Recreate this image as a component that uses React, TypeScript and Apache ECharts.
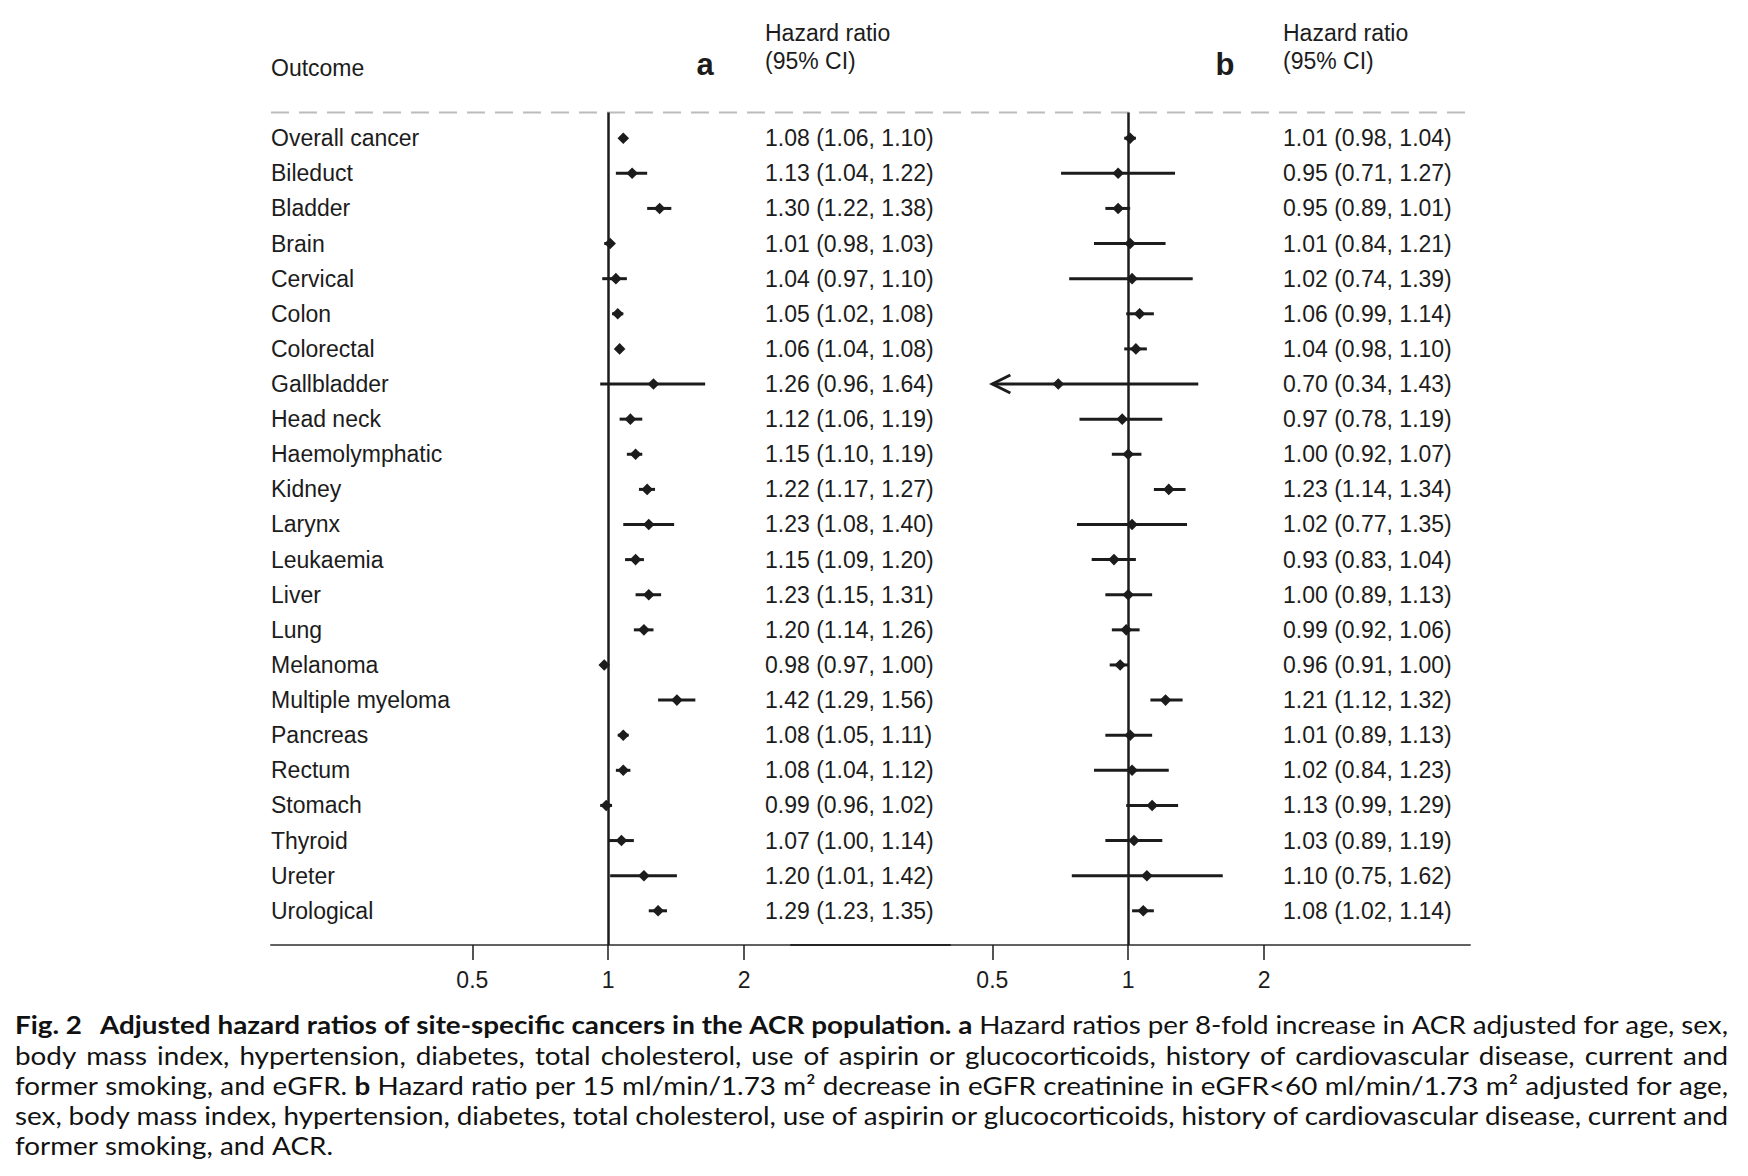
import React, { useEffect, useRef } from 'react';
import * as echarts from 'echarts';

const outcomes = ['Overall cancer', 'Bileduct', 'Bladder', 'Brain', 'Cervical', 'Colon', 'Colorectal', 'Gallbladder', 'Head neck', 'Haemolymphatic', 'Kidney', 'Larynx', 'Leukaemia', 'Liver', 'Lung', 'Melanoma', 'Multiple myeloma', 'Pancreas', 'Rectum', 'Stomach', 'Thyroid', 'Ureter', 'Urological'];

const hrA = [1.08, 1.13, 1.30, 1.01, 1.04, 1.05, 1.06, 1.26, 1.12, 1.15, 1.22, 1.23, 1.15, 1.23, 1.20, 0.98, 1.42, 1.08, 1.08, 0.99, 1.07, 1.20, 1.29];
const loA = [1.06, 1.04, 1.22, 0.98, 0.97, 1.02, 1.04, 0.96, 1.06, 1.10, 1.17, 1.08, 1.09, 1.15, 1.14, 0.97, 1.29, 1.05, 1.04, 0.96, 1.00, 1.01, 1.23];
const hiA = [1.10, 1.22, 1.38, 1.03, 1.10, 1.08, 1.08, 1.64, 1.19, 1.19, 1.27, 1.40, 1.20, 1.31, 1.26, 1.00, 1.56, 1.11, 1.12, 1.02, 1.14, 1.42, 1.35];

const hrB = [1.01, 0.95, 0.95, 1.01, 1.02, 1.06, 1.04, 0.70, 0.97, 1.00, 1.23, 1.02, 0.93, 1.00, 0.99, 0.96, 1.21, 1.01, 1.02, 1.13, 1.03, 1.10, 1.08];
const loB = [0.98, 0.71, 0.89, 0.84, 0.74, 0.99, 0.98, 0.34, 0.78, 0.92, 1.14, 0.77, 0.83, 0.89, 0.92, 0.91, 1.12, 0.89, 0.84, 0.99, 0.89, 0.75, 1.02];
const hiB = [1.04, 1.27, 1.01, 1.21, 1.39, 1.14, 1.10, 1.43, 1.19, 1.07, 1.34, 1.35, 1.04, 1.13, 1.06, 1.00, 1.32, 1.13, 1.23, 1.29, 1.19, 1.62, 1.14];

const xTicks = [0.5, 1, 2];
const clipMin = 0.5;
const panelLabels = ['a', 'b'];
const headerOutcome = 'Outcome';
const headerHR = ['Hazard ratio', '(95% CI)'];

const captionFig = 'Fig. 2';
const captionLines: [boolean, string][][] = [
  [[true, 'Adjusted hazard ratios of site-specific cancers in the ACR population. a'], [false, 'Hazard ratios per 8-fold increase in ACR adjusted for age, sex,']],
  [[false, 'body mass index, hypertension, diabetes, total cholesterol, use of aspirin or glucocorticoids, history of cardiovascular disease, current and']],
  [[false, 'former smoking, and eGFR.'], [true, 'b'], [false, 'Hazard ratio per 15 ml/min/1.73 m\u00B2 decrease in eGFR creatinine in eGFR<60 ml/min/1.73 m\u00B2 adjusted for age,']],
  [[false, 'sex, body mass index, hypertension, diabetes, total cholesterol, use of aspirin or glucocorticoids, history of cardiovascular disease, current and']],
  [[false, 'former smoking, and ACR.']],
];

const FONT = '"Liberation Sans", Arial, Helvetica, sans-serif';
const CAP_FONT = 'Lato';
const CAP_SIZE = 25;
const INK = '#1c1c1c';

const fmt = (v: number) => v.toFixed(2);

function makeRender(hr: number[], lo: number[], hi: number[], showNames: boolean, textOffset: number) {
  return (params: any, api: any) => {
    const i = params.dataIndex;
    const row = api.value(0);
    const est = api.value(1);
    const l = api.value(2);
    const h = api.value(3);
    const lc = Math.max(l, clipMin);
    const p0 = api.coord([lc, row]);
    const p1 = api.coord([h, row]);
    const pe = api.coord([est, row]);
    const cs = params.coordSys;
    const d = 5.8;
    const children: any[] = [
      { type: 'line', shape: { x1: p0[0], y1: p0[1], x2: p1[0], y2: p1[1] }, style: { stroke: INK, lineWidth: 3 } },
    ];
    if (l < clipMin) {
      children.push({
        type: 'polyline',
        shape: { points: [[p0[0] + 18, p0[1] - 9], [p0[0], p0[1]], [p0[0] + 18, p0[1] + 9]] },
        style: { stroke: INK, lineWidth: 3, fill: null },
      });
    }
    children.push({
      type: 'polygon',
      shape: { points: [[pe[0], pe[1] - d], [pe[0] + d, pe[1]], [pe[0], pe[1] + d], [pe[0] - d, pe[1]]] },
      style: { fill: INK },
    });
    children.push({
      type: 'text',
      x: cs.x + textOffset,
      y: pe[1],
      style: { text: `${fmt(hr[i])} (${fmt(lo[i])}, ${fmt(hi[i])})`, fill: INK, fontSize: 23, fontFamily: FONT, align: 'left', verticalAlign: 'middle' },
    });
    if (showNames) {
      children.push({
        type: 'text',
        x: cs.x,
        y: pe[1],
        style: { text: outcomes[i], fill: INK, fontSize: 23, fontFamily: FONT, align: 'left', verticalAlign: 'middle' },
      });
    }
    return { type: 'group', children };
  };
}

function buildCaption(): any[] {
  const canvas = document.createElement('canvas');
  const ctx = canvas.getContext('2d') as CanvasRenderingContext2D;
  const fontStr = (b: boolean) => `${b ? 'bold' : 'normal'} ${CAP_SIZE}px ${CAP_FONT}`;
  const mw = (t: string, b: boolean) => {
    ctx.font = fontStr(b);
    return ctx.measureText(t).width;
  };
  const last = captionLines[captionLines.length - 1];
  const lastText = last.map((p) => p[1]).join(' ');
  const s = 318 / mw(lastText, false);
  const els: any[] = [];
  const y0 = 1025;
  const dy = 30.1;
  const txt = (t: string, b: boolean, x: number, y: number) => ({
    type: 'text',
    x,
    y,
    scaleX: s,
    style: { text: t, fill: '#111', fontSize: CAP_SIZE, fontFamily: CAP_FONT, fontWeight: b ? 'bold' : 'normal', align: 'left', verticalAlign: 'middle' },
  });
  els.push(txt(captionFig, true, 15, y0));
  captionLines.forEach((parts, li) => {
    const y = y0 + li * dy;
    const x0 = li === 0 ? 100 : 15;
    const x1 = 1728;
    const words: { t: string; b: boolean }[] = [];
    parts.forEach(([b, t]) => t.split(' ').filter((w) => w.length).forEach((w) => words.push({ t: w, b })));
    const widths = words.map((w) => mw(w.t, w.b) * s);
    const sum = widths.reduce((a, c) => a + c, 0);
    const justified = li < captionLines.length - 1;
    const gap = justified ? (x1 - x0 - sum) / (words.length - 1) : mw(' ', false) * s;
    let x = x0;
    words.forEach((w, k) => {
      els.push(txt(w.t, w.b, x, y));
      x += widths[k] + gap;
    });
  });
  return els;
}

export default function App() {
  const ref = useRef<HTMLDivElement>(null);
  useEffect(() => {
    if (!ref.current) return;
    const chart = echarts.init(ref.current, undefined, { renderer: 'svg' });
    const gridTop = 112.6;
    const gridH = 832.4;
    const gridW = 679;
    const lefts = [271, 791];
    const textOffsets = [494, 492];
    const makeX = (gi: number) => ({
      type: 'log',
      logBase: 2,
      gridIndex: gi,
      position: 'bottom',
      min: 0.179,
      max: 5.72,
      axisLine: { show: true, onZero: false, lineStyle: { color: 'rgba(0,0,0,0.62)', width: 2 } },
      axisTick: { show: true, customValues: xTicks, length: 15, lineStyle: { color: INK, width: 1.5 } },
      axisLabel: { show: true, customValues: xTicks, fontSize: 23, fontFamily: FONT, color: INK, margin: 23, formatter: (v: number) => String(v) },
      splitLine: { show: false },
      minorTick: { show: false },
    });
    const makeY = (gi: number) => ({ type: 'value', gridIndex: gi, min: -0.729, max: 22.974, inverse: true, show: false });
    const dataA = outcomes.map((_, i) => [i, hrA[i], loA[i], hiA[i]]);
    const dataB = outcomes.map((_, i) => [i, hrB[i], loB[i], hiB[i]]);
    const refLine = {
      silent: true,
      symbol: ['none', 'none'],
      label: { show: false },
      lineStyle: { color: INK, width: 2.5, type: 'solid' },
      data: [{ xAxis: 1 }],
    };
    const headerEls: any[] = [
      { type: 'text', x: 271, y: 68, style: { text: headerOutcome, fill: INK, fontSize: 23, fontFamily: FONT, align: 'left', verticalAlign: 'middle' } },
    ];
    lefts.forEach((l, k) => {
      headerEls.push({ type: 'text', x: l + 434, y: 64, style: { text: panelLabels[k], fill: INK, fontSize: 31, fontWeight: 'bold', fontFamily: FONT, align: 'center', verticalAlign: 'middle' } });
      headerEls.push({ type: 'text', x: l + textOffsets[k], y: 33, style: { text: headerHR[0], fill: INK, fontSize: 23, fontFamily: FONT, align: 'left', verticalAlign: 'middle' } });
      headerEls.push({ type: 'text', x: l + textOffsets[k], y: 61, style: { text: headerHR[1], fill: INK, fontSize: 23, fontFamily: FONT, align: 'left', verticalAlign: 'middle' } });
    });
    const option: any = {
      animation: false,
      backgroundColor: '#ffffff',
      grid: lefts.map((l) => ({ left: l, top: gridTop, width: gridW, height: gridH, containLabel: false })),
      xAxis: [makeX(0), makeX(1)],
      yAxis: [makeY(0), makeY(1)],
      series: [
        {
          type: 'custom',
          xAxisIndex: 0,
          yAxisIndex: 0,
          data: dataA,
          clip: false,
          encode: { x: [1, 2, 3], y: 0 },
          renderItem: makeRender(hrA, loA, hiA, true, textOffsets[0]),
          markLine: refLine,
        },
        {
          type: 'custom',
          xAxisIndex: 1,
          yAxisIndex: 1,
          data: dataB,
          clip: false,
          encode: { x: [1, 2, 3], y: 0 },
          renderItem: makeRender(hrB, loB, hiB, false, textOffsets[1]),
          markLine: refLine,
        },
      ],
      graphic: [
        {
          type: 'line',
          shape: { x1: 271, y1: gridTop, x2: 1469, y2: gridTop },
          style: { stroke: '#bcbcbc', lineWidth: 2, lineDash: [18, 10] },
        },
        ...headerEls,
        ...buildCaption(),
      ],
    };
    chart.setOption(option);
    return () => chart.dispose();
  }, []);
  return <div ref={ref} style={{ position: 'absolute', left: 0, top: 0, width: 1748, height: 1176, background: '#fff' }} />;
}
